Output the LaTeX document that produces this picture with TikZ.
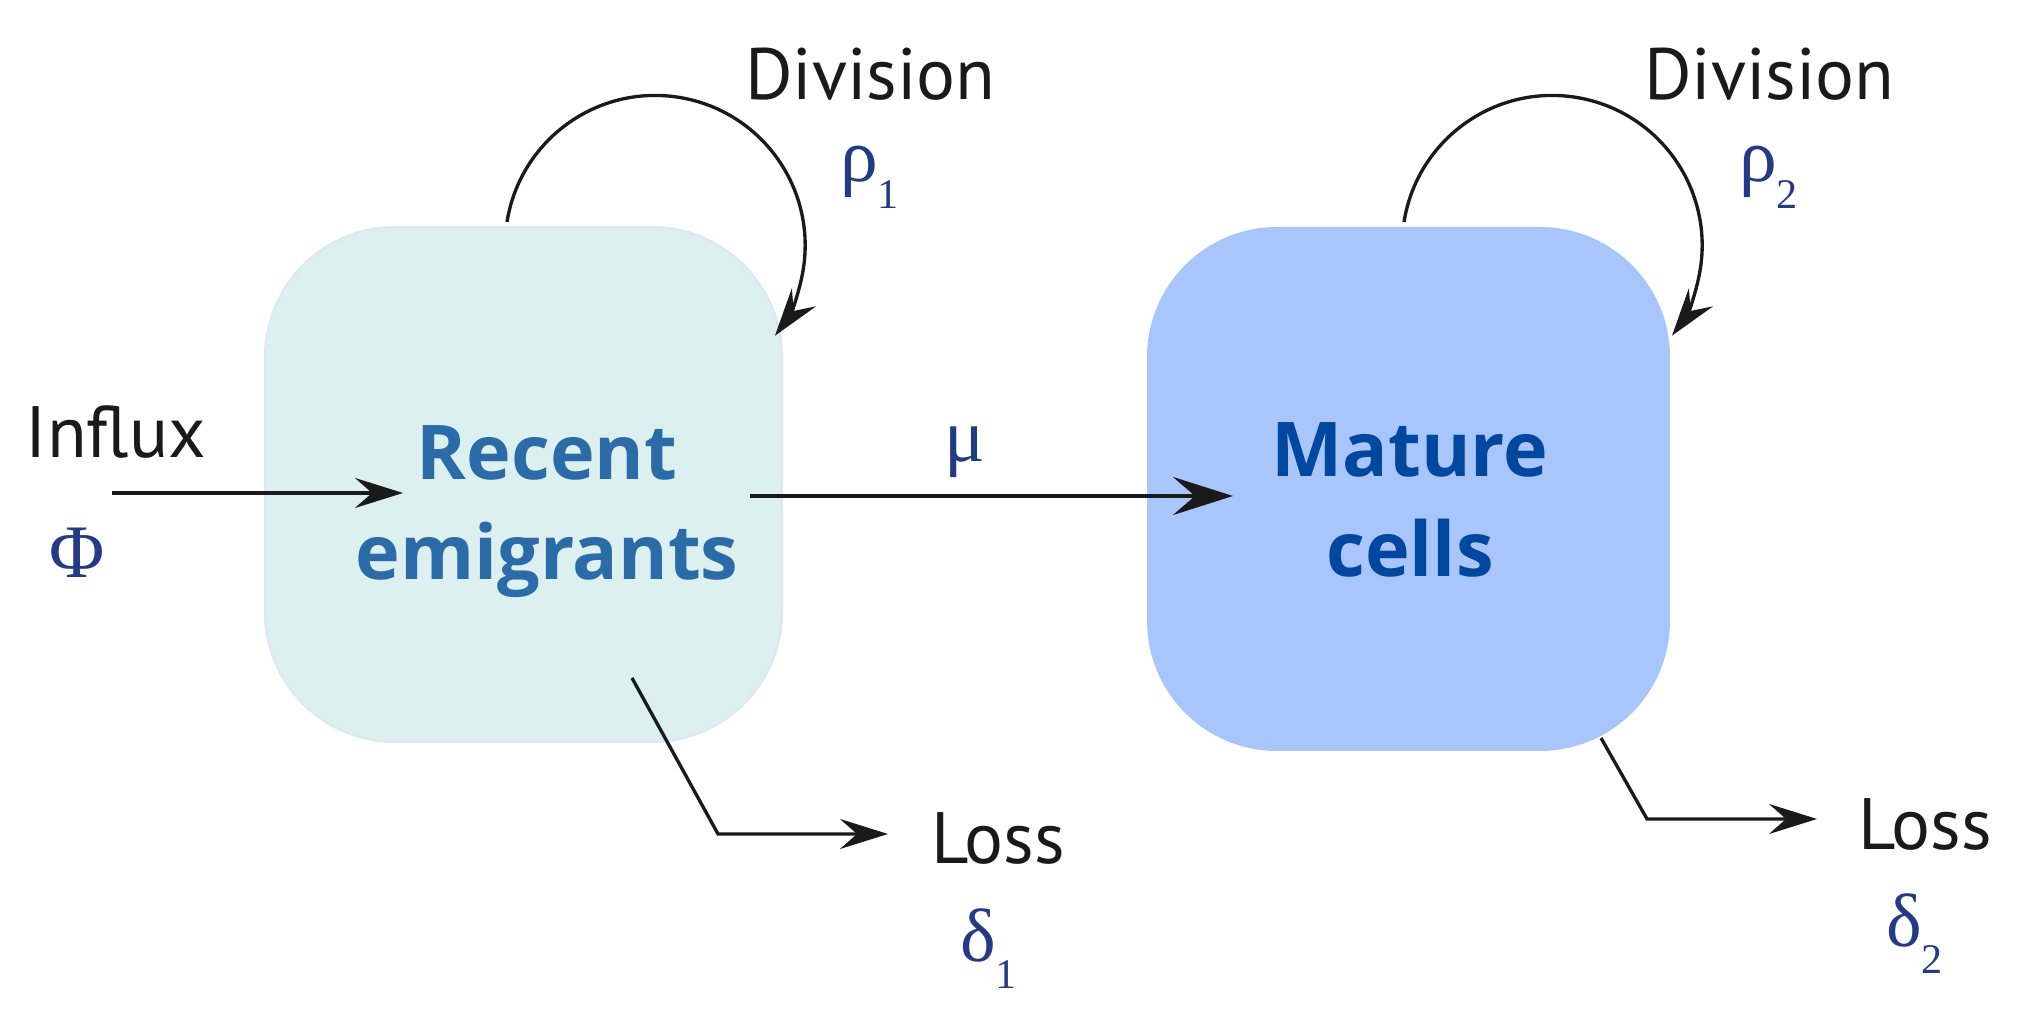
\documentclass[tikz,border=0pt]{standalone}
\usepackage{fontspec}
\setmainfont{PT Sans}
\newfontfamily\greekfont{Liberation Serif}
\newfontfamily\poolfont{Open Sans}
\usetikzlibrary{positioning,arrows.meta}

\definecolor{recentfill}{RGB}{219,240,239}
\definecolor{recentedge}{RGB}{221,232,240}
\definecolor{maturefill}{RGB}{169,198,252}
\definecolor{recenttext}{RGB}{42,107,168}
\definecolor{maturetext}{RGB}{0,71,160}
\definecolor{ratecol}{RGB}{35,58,133}
\definecolor{inkcol}{RGB}{26,26,26}

\newcommand{\lowsub}[1]{\raisebox{-0.27cm}{\fontsize{12}{14}\selectfont #1}}

\begin{document}
\begin{tikzpicture}[
  every node/.style={inner sep=0pt, outer sep=0pt},
  pool/.style={rectangle, rounded corners=1.3cm, minimum width=5.2cm,
    minimum height=5.2cm},
  poollabel/.style={font=\poolfont\fontsize{21.5}{28.45}\selectfont\bfseries,
    align=center},
  word/.style={font=\fontsize{20.7}{24}\selectfont, text=inkcol, anchor=base west},
  rate/.style={font=\fontsize{21.5}{24}\selectfont\greekfont, text=ratecol,
    anchor=base west},
  flow/.style={draw=inkcol, line width=0.95pt,
    -{Stealth[length=4.8mm, width=3mm, inset=1.7mm]}}
]
  \useasboundingbox (0,0) rectangle (20.18,10.11);

  % the two compartments
  \node[pool, fill=recentfill, draw=recentedge, line width=0.6pt,
        minimum width=5.17cm, minimum height=5.15cm] (recent) at (5.235,5.265) {};
  \node[pool, fill=maturefill, minimum width=5.23cm, minimum height=5.24cm]
        (mature) at (14.085,5.22) {};
  \node[poollabel, text=recenttext] (recentlbl) at (5.47,4.99) {Recent\\emigrants};
  \node[poollabel, text=maturetext] (maturelbl) at (14.10,5.11) {Mature\\cells};

  % labels and rates
  \node[word] (influx) at (0.26,5.53) {Influx};
  \node[rate] (phi) at (0.50,4.33) {Φ};
  \node[rate] (mu) at (9.44,5.49) {μ};
  \node[word] (div1) at (7.45,9.11) {Division};
  \node[rate] (rho1) at (8.40,8.29) {ρ\lowsub{1}};
  \node[word] (div2) at (16.44,9.11) {Division};
  \node[rate] (rho2) at (17.39,8.29) {ρ\lowsub{2}};
  \node[word] (loss1) at (9.31,1.47) {Loss};
  \node[rate] (delta1) at (9.60,0.49) {δ\lowsub{1}};
  \node[word] (loss2) at (18.58,1.61) {Loss};
  \node[rate] (delta2) at (18.86,0.64) {δ\lowsub{2}};

  % free ends of the flows
  \coordinate (influx-out) at (1.12,5.18);
  \coordinate (recent-in) at (4.03,5.18);
  \coordinate (recent-out) at (7.50,5.15);
  \coordinate (mature-in) at (12.33,5.15);
  \coordinate (div1-out) at (5.07,7.89);
  \coordinate (div2-out) at (14.04,7.89);
  \coordinate (recent-die) at (6.32,3.33);
  \coordinate (loss1-bend) at (7.18,1.77);
  \coordinate (loss1-in) at (8.88,1.77);
  \coordinate (mature-die) at (16.01,2.73);
  \coordinate (loss2-bend) at (16.47,1.92);
  \coordinate (loss2-in) at (18.17,1.92);

  \draw[flow] (influx-out) -- (recent-in);
  \draw[flow, line width=1.2pt, -{Stealth[length=6mm, width=3.8mm, inset=2.2mm]}]
        (recent-out) -- (mature-in);
  \draw[flow] (div1-out) arc[start angle=171, end angle=-37, radius=1.5cm];
  \draw[flow] (div2-out) arc[start angle=171, end angle=-37, radius=1.5cm];
  \draw[flow] (recent-die) -- (loss1-bend) -- (loss1-in);
  \draw[flow] (mature-die) -- (loss2-bend) -- (loss2-in);
\end{tikzpicture}
\end{document}
